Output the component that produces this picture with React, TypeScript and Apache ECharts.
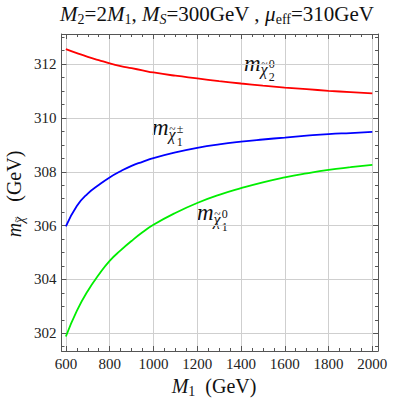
import React, { useEffect, useRef } from "react";
import * as echarts from "echarts";

// M1 sample points (GeV)
const m1Values = [600, 650, 700, 750, 800, 850, 900, 950, 1000, 1100, 1200, 1300, 1400, 1500, 1600, 1700, 1800, 1900, 2000];
// masses (GeV)
const neutralino2 = [312.56, 312.41, 312.27, 312.15, 312.03, 311.93, 311.85, 311.77, 311.69, 311.57, 311.47, 311.37, 311.28, 311.2, 311.13, 311.07, 311.01, 310.96, 310.91];
const chargino1 = [305.97, 306.73, 307.19, 307.51, 307.79, 308.02, 308.22, 308.37, 308.51, 308.72, 308.89, 309.02, 309.12, 309.2, 309.27, 309.34, 309.4, 309.44, 309.48];
const neutralino1 = [301.88, 302.83, 303.57, 304.17, 304.69, 305.08, 305.43, 305.75, 306.03, 306.47, 306.84, 307.14, 307.39, 307.61, 307.79, 307.94, 308.07, 308.17, 308.26];

const xMajorTicks = [600, 800, 1000, 1200, 1400, 1600, 1800, 2000];
const xMinorTicks = [650, 700, 750, 850, 900, 950, 1050, 1100, 1150, 1250, 1300, 1350, 1450, 1500, 1550, 1650, 1700, 1750, 1850, 1900, 1950];
const yMajorTicks = [302, 304, 306, 308, 310, 312];
const yMinorTicks = [301.5, 302.5, 303, 303.5, 304.5, 305, 305.5, 306.5, 307, 307.5, 308.5, 309, 309.5, 310.5, 311, 311.5, 312.5, 313];

const X_MIN = 580;
const X_MAX = 2026;
const Y_MIN = 301.34;
const Y_MAX = 313.12;

const FAMILY = "Liberation Serif";
const FRAME = "#555555";

type Tok = { t: string; s: number; it?: boolean; dy?: number; dx?: number; adv?: boolean; tilde?: boolean };

let ctx: CanvasRenderingContext2D | null = null;
function measure(t: string, s: number, it?: boolean) {
  if (!ctx) ctx = document.createElement("canvas").getContext("2d");
  ctx!.font = `${it ? "italic " : ""}${s}px "${FAMILY}"`;
  return ctx!.measureText(t).width;
}
function tokWidth(tokens: Tok[]) {
  let w = 0;
  for (const k of tokens) if (k.adv !== false) w += measure(k.t, k.s, k.it) + (k.dx || 0);
  return w;
}
function txt(t: string, x: number, base: number, s: number, it?: boolean, align = "left", color = "#111") {
  return {
    type: "text",
    x,
    y: base - 0.33 * s,
    silent: true,
    style: {
      text: t,
      fill: color,
      fontSize: s,
      fontFamily: FAMILY,
      fontStyle: it ? "italic" : "normal",
      align,
      verticalAlign: "middle",
    },
  };
}
function build(tokens: Tok[], x0: number, base: number) {
  let x = x0;
  const out: any[] = [];
  for (const k of tokens) {
    const b = base + (k.dy || 0);
    const xs = x + (k.dx || 0);
    out.push(txt(k.t, xs, b, k.s, k.it));
    const w = measure(k.t, k.s, k.it);
    if (k.tilde) out.push(txt("~", xs + w * 0.52, b - k.s * 0.44, k.s * 0.72, false, "center"));
    if (k.adv !== false) x = xs + w;
  }
  return out;
}

const titleToks: Tok[] = [
  { t: "M", s: 21, it: true },
  { t: "2", s: 14, dy: 4 },
  { t: "=2", s: 21 },
  { t: "M", s: 21, it: true },
  { t: "1", s: 14, dy: 4 },
  { t: ", ", s: 21 },
  { t: "M", s: 21, it: true },
  { t: "S", s: 14, it: true, dy: 4 },
  { t: "=300GeV , ", s: 21 },
  { t: "μ", s: 21, it: true },
  { t: "eff", s: 14, dy: 4 },
  { t: "=310GeV", s: 21 },
];
const xNameToks: Tok[] = [
  { t: "M", s: 20, it: true },
  { t: "1", s: 14, dy: 4 },
  { t: "  (GeV)", s: 20 },
];
const yNameToks: Tok[] = [
  { t: "m", s: 20, it: true },
  { t: "χ", s: 14, it: true, dy: 4, tilde: true },
  { t: "   (GeV)", s: 20 },
];
function massLabel(sup: string, sub: string): Tok[] {
  return [
    { t: "m", s: 23, it: true },
    { t: "χ", s: 16, it: true, dy: 4, tilde: true },
    { t: sup, s: 12, dy: -3, dx: 1, adv: false },
    { t: sub, s: 12, dy: 10, dx: 1 },
  ];
}

export default function App() {
  const ref = useRef<HTMLDivElement>(null);
  useEffect(() => {
    const chart = echarts.init(ref.current!, null, { renderer: "svg" });
    const mk = (vals: number[]) => m1Values.map((x, i) => [x, vals[i]]);

    const tw = tokWidth(titleToks);
    const xw = tokWidth(xNameToks);
    const yw = tokWidth(yNameToks);

    const baseX = {
      type: "value" as const,
      min: X_MIN,
      max: X_MAX,
      axisLine: { show: false },
      splitLine: { show: false },
      axisLabel: { show: false },
      axisTick: { show: false },
    };
    const baseY = {
      type: "value" as const,
      min: Y_MIN,
      max: Y_MAX,
      axisLine: { show: false },
      splitLine: { show: false },
      axisLabel: { show: false },
      axisTick: { show: false },
    };
    const lbl = {
      show: true,
      margin: 5,
      color: "#222",
      fontFamily: FAMILY,
      fontSize: 15,
      formatter: (v: number) => String(v),
    };
    const line = (name: string, vals: number[], color: string) => ({
      name,
      type: "line",
      data: mk(vals),
      smooth: 0.5,
      showSymbol: false,
      lineStyle: { color, width: 1.8 },
    });

    chart.setOption({
      animation: false,
      backgroundColor: "#ffffff",
      grid: { left: 61.5, right: 27, top: 34, bottom: 48, containLabel: false },
      xAxis: [
        {
          ...baseX,
          position: "bottom",
          axisLine: { show: true, onZero: false, lineStyle: { color: FRAME, width: 1 } },
          axisTick: { show: true, inside: true, length: 5, customValues: xMajorTicks, lineStyle: { color: FRAME } },
          axisLabel: { ...lbl, customValues: xMajorTicks },
          splitLine: { show: true, lineStyle: { color: "#cfcfcf", width: 1 } },
        },
        {
          ...baseX,
          position: "bottom",
          axisTick: { show: true, inside: true, length: 3, customValues: xMinorTicks, lineStyle: { color: FRAME } },
        },
        {
          ...baseX,
          position: "top",
          axisLine: { show: true, onZero: false, lineStyle: { color: FRAME, width: 1 } },
          axisTick: { show: true, inside: true, length: 5, customValues: xMajorTicks, lineStyle: { color: FRAME } },
        },
        {
          ...baseX,
          position: "top",
          axisTick: { show: true, inside: true, length: 3, customValues: xMinorTicks, lineStyle: { color: FRAME } },
        },
      ],
      yAxis: [
        {
          ...baseY,
          position: "left",
          axisLine: { show: true, onZero: false, lineStyle: { color: FRAME, width: 1 } },
          axisTick: { show: true, inside: true, length: 5, customValues: yMajorTicks, lineStyle: { color: FRAME } },
          axisLabel: { ...lbl, customValues: yMajorTicks },
          splitLine: { show: true, lineStyle: { color: "#cfcfcf", width: 1 } },
        },
        {
          ...baseY,
          position: "left",
          axisTick: { show: true, inside: true, length: 3, customValues: yMinorTicks, lineStyle: { color: FRAME } },
        },
        {
          ...baseY,
          position: "right",
          axisLine: { show: true, onZero: false, lineStyle: { color: FRAME, width: 1 } },
          axisTick: { show: true, inside: true, length: 5, customValues: yMajorTicks, lineStyle: { color: FRAME } },
        },
        {
          ...baseY,
          position: "right",
          axisTick: { show: true, inside: true, length: 3, customValues: yMinorTicks, lineStyle: { color: FRAME } },
        },
      ],
      series: [
        line("neutralino2", neutralino2, "#ff0000"),
        line("chargino1", chargino1, "#0000ff"),
        line("neutralino1", neutralino1, "#00ee00"),
      ],
      graphic: [
        { type: "group", children: build(titleToks, 217 - tw / 2, 20.5) },
        { type: "group", children: build(xNameToks, 214 - xw / 2, 392.5) },
        {
          type: "group",
          x: 20.5,
          y: 194 + yw / 2,
          rotation: Math.PI / 2,
          children: build(yNameToks, 0, 0),
        },
        { type: "group", children: build(massLabel("0", "2"), 244, 71) },
        { type: "group", children: build(massLabel("±", "1"), 152, 135.5) },
        { type: "group", children: build(massLabel("0", "1"), 197, 220.5) },
      ],
    });
    return () => chart.dispose();
  }, []);
  return (
    <div
      ref={ref}
      style={{ position: "fixed", left: 0, top: 0, width: 405, height: 399, background: "#fff" }}
    />
  );
}
